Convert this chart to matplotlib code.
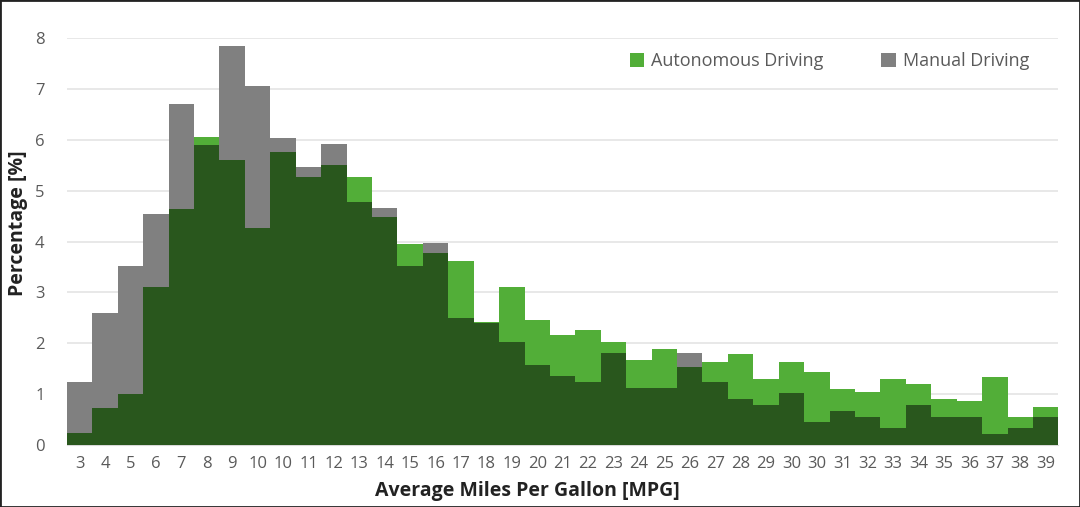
import matplotlib.pyplot as plt
import numpy as np
from matplotlib.patches import Rectangle

# tick labels as printed in the original (10 and 30 appear twice)
mpg_labels = ['3', '4', '5', '6', '7', '8', '9', '10', '10', '11', '12', '13',
              '14', '15', '16', '17', '18', '19', '20', '21', '22', '23', '24',
              '25', '26', '27', '28', '29', '30', '30', '31', '32', '33', '34',
              '35', '36', '37', '38', '39']

autonomous = [0.23, 0.72, 1.00, 3.10, 4.64, 6.05, 5.61, 4.26, 5.76, 5.27,
              5.51, 5.27, 4.49, 3.95, 3.77, 3.62, 2.41, 3.10, 2.45, 2.17,
              2.26, 2.02, 1.68, 1.88, 1.54, 1.63, 1.78, 1.30, 1.63, 1.44,
              1.10, 1.05, 1.29, 1.20, 0.91, 0.86, 1.34, 0.56, 0.75]

manual = [1.23, 2.60, 3.51, 4.54, 6.71, 5.90, 7.85, 7.05, 6.03, 5.46,
          5.91, 4.78, 4.66, 3.52, 3.97, 2.49, 2.40, 2.03, 1.58, 1.36,
          1.24, 1.81, 1.13, 1.13, 1.81, 1.24, 0.91, 0.79, 1.02, 0.45,
          0.67, 0.56, 0.33, 0.79, 0.56, 0.56, 0.22, 0.33, 0.56]

GREEN = '#52ae38'
GREY = '#808080'
DARK = '#29571d'
TEXT = '#5a5a5a'

plt.rcParams['font.family'] = ['Open Sans', 'DejaVu Sans']

fig = plt.figure(figsize=(10.8, 5.07), dpi=100)
ax = fig.add_axes([0.062, 0.1223, 0.918, 0.8027])

x = np.arange(len(mpg_labels))
auto = np.array(autonomous)
man = np.array(manual)

ax.bar(x, man, width=1.0, color=GREY, label='Manual Driving', zorder=2)
ax.bar(x, auto, width=1.0, color=GREEN, label='Autonomous Driving', zorder=2)
ax.bar(x, np.minimum(auto, man), width=1.0, color=DARK, zorder=3)

ax.set_xlim(-0.5, len(x) - 0.5)
ax.set_ylim(0, 8)
ax.set_yticks(range(0, 9))
ax.set_xticks(x)
ax.set_xticklabels(mpg_labels)
ax.yaxis.grid(True, color='#e4e4e4', linewidth=1.2, zorder=0)
ax.set_axisbelow(True)
for s in ['top', 'right', 'left']:
    ax.spines[s].set_visible(False)
ax.spines['bottom'].set_color('#d9d9d9')
ax.tick_params(axis='both', length=0, labelsize=12, colors=TEXT)
ax.tick_params(axis='x', pad=8)
ax.tick_params(axis='y', pad=16)

ax.set_xlabel('Average Miles Per Gallon [MPG]', fontsize=14,
              fontweight='bold', color='#222222')
ax.set_ylabel('Percentage [%]', fontsize=14, fontweight='bold',
              color='#222222')
ax.xaxis.set_label_coords(0.464, -0.088)
ax.yaxis.set_label_coords(-0.039, 0.545)

handles, labels = ax.get_legend_handles_labels()
leg = ax.legend(handles[::-1], labels[::-1], loc='center right',
                bbox_to_anchor=(0.978, 0.943), borderaxespad=0, ncol=2,
                frameon=False, fontsize=13, handlelength=0.8,
                handleheight=0.8, handletextpad=0.4, columnspacing=3.2)
for t in leg.get_texts():
    t.set_color(TEXT)

fig.patches.append(Rectangle((0, 0), 1, 1, transform=fig.transFigure,
                             fill=False, edgecolor='#222222', linewidth=2))

fig.savefig('out.png', dpi=100)
